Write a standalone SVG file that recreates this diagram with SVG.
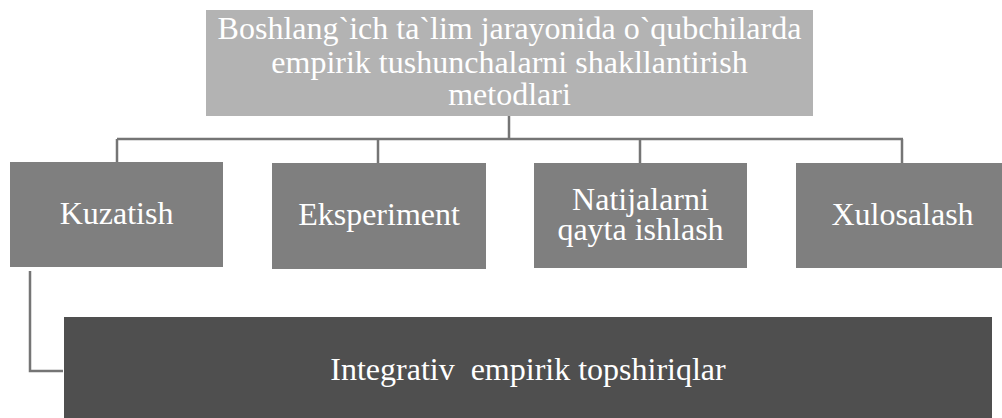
<svg xmlns="http://www.w3.org/2000/svg" width="1002" height="418" viewBox="0 0 1002 418">
<style>
.t{font-family:"Liberation Serif",serif;font-size:32px;fill:#ffffff;text-anchor:middle}
.c{fill:none;stroke:#757575;stroke-width:2.5}
.m{fill:#7f7f7f}
</style>
<rect width="1002" height="418" fill="#ffffff"/>
<g id="connectors">
<path class="c" d="M509 116V139M117 139H903M117 139V162M378 139V163M640 139V163M902 139V163"/>
<path class="c" d="M30 271V371H63" stroke="#595959"/>
</g>
<g id="top">
<rect x="206" y="10" width="607" height="106" fill="#b3b3b3"/>
<text class="t" x="509.5" y="39" font-family="Liberation Serif, serif">Boshlang`ich ta`lim jarayonida o`qubchilarda</text>
<text class="t" x="509.5" y="73" font-family="Liberation Serif, serif">empirik tushunchalarni shakllantirish</text>
<text class="t" x="509.5" y="105" font-family="Liberation Serif, serif">metodlari</text>
</g>
<g id="kuzatish">
<rect class="m" x="10" y="162" width="213" height="105"/>
<text class="t" x="116.5" y="224">Kuzatish</text>
</g>
<g id="eksperiment">
<rect class="m" x="272" y="163" width="214" height="106"/>
<text class="t" x="379" y="225">Eksperiment</text>
</g>
<g id="natijalarni">
<rect class="m" x="534" y="163" width="213" height="105"/>
<text class="t" x="640.5" y="210">Natijalarni</text>
<text class="t" x="640.5" y="240">qayta ishlash</text>
</g>
<g id="xulosalash">
<rect class="m" x="796" y="163" width="213" height="105"/>
<text class="t" x="902.5" y="225">Xulosalash</text>
</g>
<g id="integrativ">
<rect x="64" y="317" width="928" height="101" fill="#4f4f4f"/>
<text class="t" x="528" y="380">Integrativ&#160; empirik topshiriqlar</text>
</g>
</svg>
